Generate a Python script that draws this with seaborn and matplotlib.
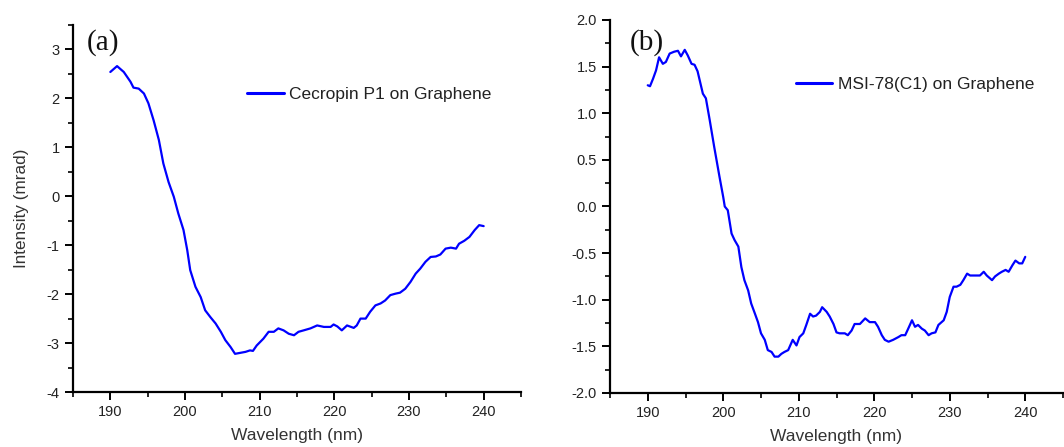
import numpy as np
import pandas as pd
import matplotlib
matplotlib.use("Agg")
import matplotlib.pyplot as plt
import seaborn as sns
from matplotlib.ticker import MultipleLocator, FormatStrFormatter

# ---- data ----
wl_a = [190.0, 190.9, 191.8, 192.7, 193.1, 193.8, 194.5, 195.1, 195.8, 196.5, 197.1, 197.8,
        198.5, 199.1, 199.8, 200.3, 200.7, 201.4, 202.1, 202.7, 203.4, 204.1, 204.8, 205.4,
        206.1, 206.7, 207.4, 208.1, 208.7, 209.1, 209.6, 210.5, 211.2, 211.9, 212.5, 213.2,
        213.9, 214.6, 215.2, 215.9, 216.8, 217.7, 218.6, 219.5, 219.9, 220.4, 221.0, 221.7,
        222.6, 223.0, 223.5, 224.2, 224.8, 225.5, 226.2, 226.8, 227.5, 228.2, 228.8, 229.5,
        230.2, 230.9, 231.5, 232.2, 232.9, 233.6, 234.2, 234.9, 235.6, 236.3, 236.7, 237.4,
        238.1, 238.8, 239.4, 240.0]
int_a = [2.54, 2.66, 2.54, 2.34, 2.22, 2.20, 2.10, 1.90, 1.55, 1.15, 0.67, 0.29,
         -0.01, -0.35, -0.69, -1.10, -1.51, -1.85, -2.06, -2.33, -2.47, -2.60, -2.77, -2.94,
         -3.08, -3.22, -3.20, -3.18, -3.15, -3.16, -3.05, -2.91, -2.77, -2.77, -2.70, -2.74,
         -2.81, -2.84, -2.77, -2.74, -2.70, -2.64, -2.67, -2.67, -2.62, -2.66, -2.74, -2.64,
         -2.69, -2.64, -2.50, -2.50, -2.36, -2.23, -2.19, -2.13, -2.02, -1.99, -1.97, -1.89,
         -1.75, -1.58, -1.48, -1.34, -1.24, -1.23, -1.19, -1.07, -1.05, -1.07, -0.97, -0.91,
         -0.83, -0.69, -0.59, -0.61]

wl_b = [190.0, 190.3, 190.7, 191.1, 191.5, 192.0, 192.4, 192.9, 193.5, 194.0, 194.4, 194.9,
        195.3, 195.8, 196.2, 196.6, 197.3, 197.7, 198.2, 198.8, 199.5, 200.0, 200.2, 200.6,
        201.1, 201.5, 202.0, 202.4, 202.8, 203.3, 203.7, 204.2, 204.6, 205.0, 205.5, 205.9,
        206.4, 206.8, 207.3, 207.7, 208.1, 208.6, 209.2, 209.7, 210.1, 210.6, 211.0, 211.5,
        211.9, 212.3, 212.8, 213.1, 213.7, 214.1, 214.6, 215.0, 215.4, 216.1, 216.5, 217.0,
        217.4, 218.1, 218.8, 219.4, 220.1, 220.5, 221.0, 221.4, 221.9, 222.5, 223.2, 223.6,
        224.1, 224.5, 225.0, 225.4, 225.8, 226.3, 226.7, 227.2, 227.6, 228.1, 228.5, 229.2,
        229.6, 230.0, 230.5, 230.9, 231.4, 231.8, 232.3, 232.7, 233.4, 234.0, 234.5, 234.9,
        235.6, 236.0, 236.5, 236.9, 237.4, 237.8, 238.3, 238.7, 239.2, 239.6, 240.0]
int_b = [1.30, 1.29, 1.37, 1.46, 1.60, 1.53, 1.55, 1.64, 1.66, 1.67, 1.61, 1.68,
         1.62, 1.53, 1.52, 1.45, 1.21, 1.16, 0.93, 0.64, 0.32, 0.10, 0.00, -0.04,
         -0.29, -0.36, -0.43, -0.65, -0.79, -0.90, -1.04, -1.15, -1.24, -1.36, -1.43, -1.54,
         -1.56, -1.61, -1.61, -1.58, -1.56, -1.54, -1.43, -1.49, -1.40, -1.36, -1.27, -1.15,
         -1.18, -1.17, -1.13, -1.08, -1.13, -1.18, -1.26, -1.35, -1.36, -1.36, -1.38, -1.33,
         -1.26, -1.26, -1.20, -1.24, -1.24, -1.29, -1.38, -1.43, -1.45, -1.43, -1.40, -1.38,
         -1.38, -1.31, -1.22, -1.29, -1.27, -1.31, -1.33, -1.38, -1.36, -1.35, -1.27, -1.22,
         -1.13, -0.97, -0.86, -0.86, -0.84, -0.79, -0.72, -0.74, -0.74, -0.74, -0.70, -0.74,
         -0.79, -0.75, -0.72, -0.70, -0.68, -0.70, -0.63, -0.58, -0.61, -0.61, -0.54]

label_a = "Cecropin P1 on Graphene"
label_b = "MSI-78(C1) on Graphene"
x_ticks = [190, 200, 210, 220, 230, 240]

df_a = pd.DataFrame({"Wavelength": wl_a, "Intensity": int_a, "series": label_a})
df_b = pd.DataFrame({"Wavelength": wl_b, "Intensity": int_b, "series": label_b})

sns.set_style("ticks")
plt.rcParams["font.family"] = ["Liberation Sans", "DejaVu Sans"]
plt.rcParams["axes.unicode_minus"] = False

fig = plt.figure(figsize=(10.64, 4.47), dpi=100)
ax1 = fig.add_axes([73/1064, 1-392/447, (521-73)/1064, (392-25)/447])
ax2 = fig.add_axes([610/1064, 1-393/447, (1063-610)/1064, (393-20)/447])

blue = "#0000ff"
for ax, df in ((ax1, df_a), (ax2, df_b)):
    sns.lineplot(data=df, x="Wavelength", y="Intensity", hue="series",
                 palette=[blue], ax=ax, linewidth=1.6, sort=False)
    ax.set_xlim(185, 245)
    ax.set_xticks(x_ticks)
    ax.xaxis.set_minor_locator(MultipleLocator(5))
    for s in ("top", "right"):
        ax.spines[s].set_visible(False)
    for s in ("left", "bottom"):
        ax.spines[s].set_linewidth(1.6)
        ax.spines[s].set_color("black")
    ax.tick_params(which="major", direction="out", length=6, width=1.4,
                   labelsize=10.5, labelcolor="#222222", colors="black")
    ax.tick_params(which="minor", direction="out", length=3.5, width=1.2, colors="black")
    ax.tick_params(axis="x", which="major", labelcolor="#222222")
    ax.set_xlabel("Wavelength (nm)", fontsize=12.5, color="#333333", labelpad=6)
    leg = ax.legend(frameon=False, fontsize=12.5, handlelength=2.1, handletextpad=0.3,
                    borderaxespad=0.0, loc="center left")
    for t in leg.get_texts():
        t.set_color("#222222")
    for l in leg.get_lines():
        l.set_linewidth(2.2)

ax1.set_ylim(-4, 3.5)
ax1.set_yticks([-4, -3, -2, -1, 0, 1, 2, 3])
ax1.yaxis.set_minor_locator(MultipleLocator(0.5))
ax1.set_ylabel("Intensity (mrad)", fontsize=12.3, color="#333333", labelpad=13)
ax1.legend_.set_bbox_to_anchor((0.373, 0.81))

ax2.set_ylim(-2.0, 2.0)
ax2.set_yticks(np.arange(-2.0, 2.01, 0.5))
ax2.yaxis.set_major_formatter(FormatStrFormatter("%.1f"))
ax2.yaxis.set_minor_locator(MultipleLocator(0.25))
ax2.set_ylabel("")
ax2.legend_.set_bbox_to_anchor((0.395, 0.828))

fig.text(87/1064, 1-43/447, "(a)", fontsize=21, family=["Liberation Serif", "DejaVu Serif"],
         va="center", ha="left", color="#111111")
fig.text(630/1064, 1-43/447, "(b)", fontsize=21, family=["Liberation Serif", "DejaVu Serif"],
         va="center", ha="left", color="#111111")

fig.savefig("out.png", dpi=100)
